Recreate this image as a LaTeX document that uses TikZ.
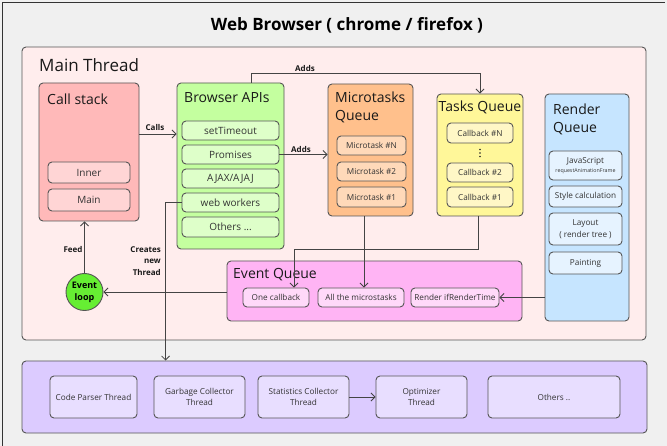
\documentclass[tikz,border=0pt]{standalone}
\usepackage{fontspec}
\setmainfont{Open Sans}
\usetikzlibrary{arrows.meta,calc}
\definecolor{bgc}{HTML}{F0F0F0}
\definecolor{bordc}{HTML}{555555}
\definecolor{linec}{HTML}{444444}
\definecolor{txtc}{HTML}{333333}
\definecolor{mainpink}{HTML}{FFEDED}
\definecolor{purp}{HTML}{DCCBFF}
\definecolor{purpl}{HTML}{E8DEFF}
\definecolor{csc}{HTML}{FFB9B9}
\definecolor{cscl}{HTML}{FFD5D5}
\definecolor{apic}{HTML}{C4FF9F}
\definecolor{apicl}{HTML}{DEFFC9}
\definecolor{mic}{HTML}{FFC08C}
\definecolor{micl}{HTML}{FFD9B9}
\definecolor{tqc}{HTML}{FFF799}
\definecolor{tqcl}{HTML}{FFF7C6}
\definecolor{rqc}{HTML}{C6E5FF}
\definecolor{rqcl}{HTML}{E6F3FF}
\definecolor{eqc}{HTML}{FFB4F4}
\definecolor{eqcl}{HTML}{FFD9F9}
\definecolor{elc}{HTML}{66EE33}
\newcommand\fsz[2]{\fontsize{#1}{#2}\selectfont}
\newcommand\bx[7]{\node[#6, minimum width={#4pt-#2pt}, minimum height={#5pt-#3pt}] (#1) at ({(#2+#4)/2},{(#3+#5)/2}) {#7};}
\tikzset{
  base/.style={draw=bordc, line width=0.9pt, rounded corners=4pt, inner sep=0pt, align=center, text=txtc},
  cont/.style={base},
  sub/.style={base, font=\fsz{10}{12}},
  small/.style={base, font=\fsz{8.2}{11}},
  ttl/.style={inner sep=0pt, text=black!90, font=\fsz{14}{18}, align=left},
  lbl/.style={inner sep=0pt, text=black!90, font=\bfseries\fsz{8}{11.5}},
  arr/.style={draw=linec, line width=0.8pt, -{Straight Barb[length=4pt,width=8pt]}},
}
\begin{document}
\begin{tikzpicture}[x=1pt,y=-1pt]
\useasboundingbox (0,0) rectangle (667,446);
\fill[bgc] (0,0) rectangle (667,446);
\draw[line width=1pt, black!80] (2,446) -- (2,3) -- (665,3);
\node[inner sep=0pt, font=\bfseries\fsz{17}{20}] (title) at (347,25) {Web Browser ( chrome / firefox )};

% containers
\bx{main}{22}{47}{646}{340}{cont, fill=mainpink}{}
\bx{threads}{22}{361}{647}{433}{cont, fill=purp}{}
\node[ttl, font=\fsz{17}{20}, anchor=west] (mtt) at (39,65) {Main Thread};

\bx{cs}{39}{83}{139}{221}{cont, fill=csc}{}
\node[ttl, anchor=west] (cst) at (47,99) {Call stack};
\bx{inner}{48}{162}{130}{183}{sub, fill=cscl}{Inner}
\bx{cmain}{48}{189}{130}{211}{sub, fill=cscl}{Main}

\bx{apis}{177}{83}{284}{249}{cont, fill=apic}{}
\node[ttl, anchor=west] (apit) at (184,98) {Browser APIs};
\bx{st}{182}{121}{279}{140}{sub, fill=apicl}{setTimeout}
\bx{pr}{182}{145}{279}{164}{sub, fill=apicl}{Promises}
\bx{aj}{182}{169}{279}{188}{sub, fill=apicl}{AJAX/AJAJ}
\bx{ww}{182}{193}{279}{212}{sub, fill=apicl}{web workers}
\bx{ot}{182}{217}{279}{237}{sub, fill=apicl}{Others ...}

\bx{micro}{328}{84}{413}{216}{cont, fill=mic}{}
\node[ttl, anchor=west] (mit) at (335,107) {Microtasks\\Queue};
\bx{mN}{337}{136}{406}{155}{small, fill=micl}{Microtask \#N}
\bx{m2}{337}{162}{406}{181}{small, fill=micl}{Microtask \#2}
\bx{m1}{337}{187}{406}{207}{small, fill=micl}{Microtask \#1}

\bx{tasks}{437}{94}{523}{216}{cont, fill=tqc}{}
\node[ttl] (tqt) at (480,107) {Tasks Queue};
\bx{cN}{447}{123}{513}{143}{small, fill=tqcl}{Callback \#N}
\foreach \yy in {149.5,153,156.5} \fill[black!85] (480,\yy) circle (0.9);
\bx{c2}{447}{163}{513}{182}{small, fill=tqcl}{Callback \#2}
\bx{c1}{447}{187}{513}{207}{small, fill=tqcl}{Callback \#1}

\bx{rq}{545}{94}{629}{321}{cont, fill=rqc}{}
\node[ttl, anchor=west] (rqt) at (553,119) {Render\\Queue};
\bx{js}{549}{151}{622}{180}{small, fill=rqcl}{JavaScript\\[-2pt]{\fsz{5.3}{6}requestAnimationFrame}}
\bx{scl}{549}{186}{622}{207}{small, fill=rqcl}{Style calculation}
\bx{lay}{549}{213}{622}{245}{small, fill=rqcl, font=\fsz{8.2}{12.5}}{Layout\\( render tree )}
\bx{pt}{549}{252}{622}{274}{small, fill=rqcl}{Painting}

\bx{eq}{227}{261}{522}{321}{cont, fill=eqc}{}
\node[ttl, anchor=west] (eqt) at (233,275) {Event Queue};
\bx{oc}{243}{288}{309}{307}{small, fill=eqcl}{One callback}
\bx{am}{318}{288}{404}{307}{small, fill=eqcl}{All the microstasks}
\bx{ri}{411}{288}{499}{307}{small, fill=eqcl}{Render ifRenderTime}

\node[circle, draw=bordc, line width=0.9pt, fill=elc, minimum size=37pt, inner sep=0pt, align=center, font=\bfseries\fsz{9}{12}] (el) at (84.5,292) {Event\\loop};

\bx{cp}{50}{376}{137}{418}{small, fill=purpl}{Code Parser Thread}
\bx{gc}{154}{376}{245}{418}{small, fill=purpl}{Garbage Collector\\Thread}
\bx{stc}{258}{376}{349}{418}{small, fill=purpl}{Statistics Collector\\Thread}
\bx{op}{376}{376}{467}{418}{small, fill=purpl}{Optimizer\\Thread}
\bx{oth}{488}{376}{620}{418}{small, fill=purpl}{Others ..}

% connectors
\draw[arr] ([yshift=18pt]cs.east) -- ([yshift=18pt]cs.east -| apis.west);
\node[lbl] (callsl) at (155,128) {Calls};
\draw[arr] (pr.east) -- (pr.east -| micro.west);
\node[lbl] (adds1) at (301,150) {Adds};
\draw[arr] ([xshift=20.5pt]apis.north) -- ++(0,-9) coordinate (k1) -- (k1 -| tasks.north) -- (tasks.north);
\node[lbl] (adds2) at (305,69) {Adds};
\draw[arr] (el.north) -- (el.north |- cs.south);
\node[lbl] (feedl) at (73,250) {Feed};
\draw[arr] (eq.west |- el) -- (el.east);
\draw[arr] ([xshift=3pt]am.north |- micro.south) -- ([xshift=3pt]am.north);
\coordinate (octop) at ([xshift=18pt]oc.north);
\draw[arr] ([xshift=-2pt]tasks.south) -- ++(0,33) coordinate (k2) -- (k2 -| octop) -- (octop);
\draw[arr] (rq.west |- ri) -- (ri.east);
\draw[arr] (ww.west) -- ++(-16,0) coordinate (k3) -- (k3 |- threads.north);
\node[lbl, align=right, anchor=east] (cnt) at (161,261) {Creates\\new\\Thread};
\draw[arr] (stc) -- (op);
\end{tikzpicture}
\end{document}
